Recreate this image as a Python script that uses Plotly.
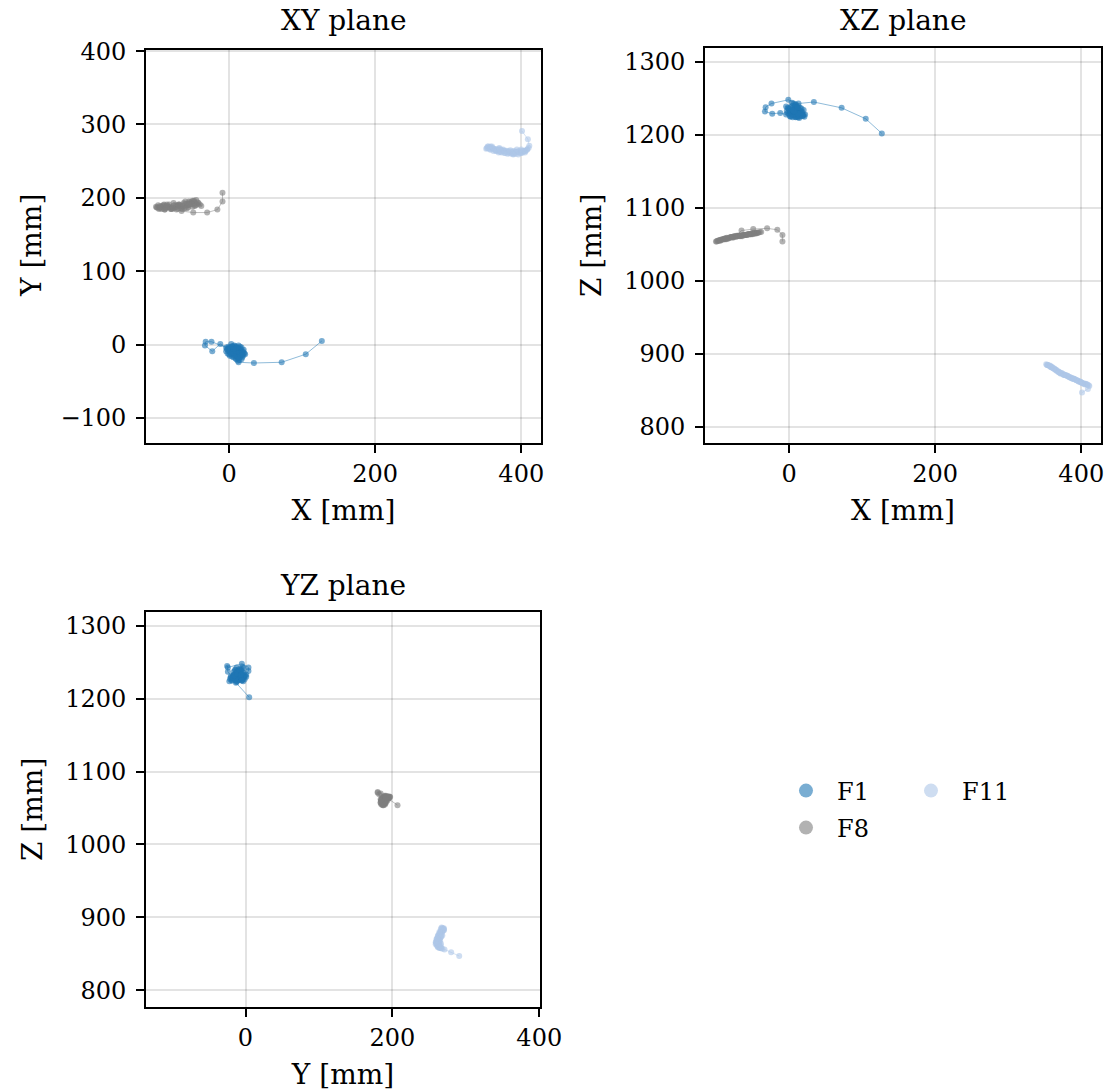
import plotly.graph_objects as go

W, H = 1111, 1092

# ---------------- data (time ordered trajectories, mm) ----------------
f1_x = [127, 105, 72, 34, 13, -1, -24, -32, -33, -23, -12, -4,
        2, 6, 10, 4, 8, 12, 15, 18, 5, 9, 11, 14, 16, 7, 3, 0, -3, 13, 19, 21,
        17, 12, 10, 6, 1, -2, 4, 8, 11, 15, 20, 17, 13, 9, 5, 2, 7, 14, 11, 9,
        3, 7, 12, 16, 19, 22, 18, 14, 9, 4, 0, -4, -1, 3, 8, 13, 17, 20, 15, 10,
        6, 2, -2, 1, 5, 10, 14, 18, 12, 7, 4, 9, 11, 6]
f1_y = [5, -13, -24, -25, -24, -5, 4, 4, -1, -9, 1, -4,
        -8, -10, -6, -2, -14, -12, -8, -10, -6, -3, -16, -18, -14, -11, -13, -9, -6, -5, -15, -12,
        -20, -22, -20, -17, -15, -12, -4, -8, -10, -3, -7, -11, -14, -12, -9, -5, -1, -9, -7, -10,
        -7, -9, -11, -6, -9, -13, -17, -21, -19, -16, -13, -9, -3, 1, -2, -1, -4, -11, -16, -14,
        -12, -10, -7, -4, -3, -5, -12, -14, -18, -15, -11, -8, -4, -6]
f1_z = [1202, 1222, 1237, 1245, 1243, 1248, 1243, 1238, 1232, 1229, 1230, 1228,
        1232, 1235, 1238, 1230, 1227, 1229, 1226, 1228, 1240, 1242, 1233, 1225, 1231, 1236, 1226, 1229, 1233, 1234, 1227, 1225,
        1229, 1224, 1231, 1227, 1233, 1237, 1244, 1241, 1226, 1230, 1228, 1236, 1239, 1224, 1229, 1225, 1232, 1227, 1230, 1228,
        1231, 1234, 1237, 1229, 1226, 1228, 1232, 1227, 1225, 1230, 1235, 1239, 1236, 1233, 1229, 1227, 1231, 1234, 1237, 1240,
        1243, 1238, 1230, 1226, 1224, 1225, 1223, 1226, 1229, 1232, 1235, 1239, 1237, 1233]

f8_x = [-9, -9, -16, -30, -49, -65,
        -72, -80, -88, -95, -100, -97, -90, -85, -78, -70, -62, -55, -48, -42, -38, -45, -52, -58, -65, -75,
        -82, -92, -98, -94, -86, -76, -68, -60, -50, -44, -56, -64, -73, -83, -89, -79, -69, -61, -53, -47,
        -99, -96, -93, -90, -87, -84, -81, -78, -75, -72, -69, -66, -63, -60, -57, -54, -51, -48, -46, -43,
        -40, -50, -58, -67, -77, -86, -94, -88, -70, -55]
f8_y = [207, 195, 184, 180, 180, 182,
        184, 185, 184, 186, 188, 190, 189, 191, 187, 190, 193, 195, 196, 193, 189, 197, 194, 191, 188, 186,
        191, 185, 187, 189, 187, 193, 191, 195, 196, 191, 187, 185, 190, 188, 191, 185, 189, 186, 192, 189,
        187, 185, 188, 190, 186, 189, 187, 185, 190, 188, 191, 186, 189, 192, 190, 194, 192, 195, 190, 194,
        191, 188, 186, 190, 187, 189, 187, 184, 185, 191]
f8_z = [1054, 1063, 1070, 1072, 1071, 1069,
        1062, 1060, 1058, 1056, 1054, 1055, 1057, 1059, 1060, 1062, 1063, 1064, 1066, 1066, 1067, 1065, 1064, 1063, 1062, 1061,
        1059, 1057, 1055, 1056, 1058, 1060, 1062, 1063, 1065, 1066, 1064, 1061, 1060, 1058, 1057, 1060, 1062, 1063, 1064, 1065,
        1054, 1055, 1056, 1057, 1058, 1058, 1059, 1060, 1061, 1061, 1062, 1062, 1063, 1063, 1064, 1064, 1065, 1065, 1066, 1066,
        1067, 1064, 1063, 1061, 1059, 1057, 1055, 1057, 1061, 1064]

f11_x = [401, 409, 411, 405,
         398, 390, 382, 375, 368, 360, 354, 352, 357, 364, 371, 378, 386, 394, 402, 408, 404, 396, 388,
         380, 372, 366, 359, 355, 362, 369, 376, 384, 392, 400, 406, 397, 389, 381, 373, 365, 358, 353,
         354, 357, 360, 363, 366, 369, 372, 375, 378, 381, 384, 387, 390, 393, 396, 399, 402, 405, 408, 410,
         385, 370, 358, 394, 377, 362, 400, 389]
f11_y = [291, 280, 271, 264,
         262, 260, 263, 264, 265, 268, 270, 267, 269, 265, 263, 261, 260, 263, 262, 266, 264, 259, 262,
         264, 266, 264, 268, 270, 267, 262, 264, 261, 262, 261, 264, 264, 260, 262, 262, 266, 266, 268,
         268, 266, 270, 267, 264, 267, 263, 266, 264, 260, 263, 262, 264, 260, 263, 261, 264, 262, 266, 268,
         265, 268, 270, 266, 261, 264, 266, 259]
f11_z = [847, 852, 856, 858,
         862, 866, 869, 872, 876, 881, 885, 886, 883, 879, 874, 871, 867, 864, 860, 858, 859, 863, 866,
         870, 873, 877, 882, 884, 880, 875, 871, 868, 865, 861, 859, 862, 866, 870, 874, 878, 882, 885,
         885, 884, 882, 880, 878, 876, 874, 873, 871, 870, 868, 867, 866, 864, 863, 862, 860, 859, 858, 857,
         868, 875, 883, 864, 871, 880, 861, 866]

series_names = ["F1", "F8", "F11"]
series_colors = ["31,119,180", "127,127,127", "174,199,232"]
series_data = [(f1_x, f1_y, f1_z), (f8_x, f8_y, f8_z), (f11_x, f11_y, f11_z)]

panel_titles = ["XY plane", "XZ plane", "YZ plane"]
# ----------------------------------------------------------------------

FONT = "DejaVu Serif"
fig = go.Figure()

panels = [("x", "y", 0, 1), ("x2", "y2", 0, 2), ("x3", "y3", 1, 2)]
for (xs, ys, zs), name, col in zip(series_data, series_names, series_colors):
    coords = {0: xs, 1: ys, 2: zs}
    for xa, ya, i, j in panels:
        fig.add_trace(go.Scatter(
            x=coords[i], y=coords[j], mode="lines+markers", xaxis=xa, yaxis=ya,
            line=dict(color=f"rgba({col},0.5)", width=1),
            marker=dict(color=f"rgba({col},0.6)", size=6, line=dict(width=0)),
            showlegend=False, hoverinfo="skip"))

# legend: F1 and F8 in first column, F11 in second column
legend_ids = ["legend", "legend3", "legend2"]
legend_pos = {"legend": (775, 791), "legend3": (775, 828), "legend2": (900, 791)}
for name, col, lid in zip(series_names, series_colors, legend_ids):
    fig.add_trace(go.Scatter(
        x=[None], y=[None], mode="markers", name=name, legend=lid,
        marker=dict(color=f"rgba({col},0.6)", size=14), showlegend=True))

def px_dom_x(a, b):
    return [a / W, b / W]

def px_dom_y(top, bottom):
    return [1 - bottom / H, 1 - top / H]

def ax(domain, rng, dtick, anchor, title=None, standoff=10, lab_standoff=5):
    d = dict(
        domain=domain, range=rng, dtick=dtick, anchor=anchor, automargin=False,
        showline=True, mirror=True, linecolor="black", linewidth=1.8,
        ticks="outside", ticklen=8, tickwidth=1.8, tickcolor="black",
        ticklabelstandoff=lab_standoff,
        showgrid=True, gridcolor="rgba(0,0,0,0.11)", gridwidth=1.5,
        zeroline=False, tickfont=dict(family=FONT, size=24, color="black"),
    )
    if title:
        d["title"] = dict(text=title, standoff=standoff,
                          font=dict(family=FONT, size=28, color="black"))
    return d

layout = dict(
    width=W, height=H, margin=dict(l=0, r=0, t=0, b=0, autoexpand=False),
    paper_bgcolor="white", plot_bgcolor="white",
    font=dict(family=FONT, color="black"),
    xaxis=ax(px_dom_x(146, 541), [-113.7, 427], 200, "y", "X [mm]", 14, 0),
    yaxis=ax(px_dom_y(50, 443), [-134, 401.5], 100, "x"),
    xaxis2=ax(px_dom_x(705, 1101), [-115, 427], 200, "y2", "X [mm]", 14, 0),
    yaxis2=ax(px_dom_y(48, 443), [778, 1319], 100, "x2"),
    xaxis3=ax(px_dom_x(146, 540), [-135.5, 401], 200, "y3", "Y [mm]", 14, 0),
    yaxis3=ax(px_dom_y(612, 1007), [777, 1319], 100, "x3"),
    showlegend=True,
)
for lid, (lx, ly) in legend_pos.items():
    layout[lid] = dict(x=lx / W, y=1 - ly / H, xanchor="left", yanchor="middle",
                       bgcolor="rgba(0,0,0,0)", borderwidth=0, itemsizing="trace",
                       itemwidth=52,
                       font=dict(family=FONT, size=24, color="black"))

annotations = []
title_pos = [(343.5, 20), (903, 20), (343, 585)]
for t, (px, py) in zip(panel_titles, title_pos):
    annotations.append(dict(text=t, x=px / W, y=1 - py / H, xref="paper", yref="paper",
                            xanchor="center", yanchor="middle", showarrow=False,
                            font=dict(family=FONT, size=28, color="black")))
ytitles = [("Y [mm]", 32, 246), ("Z [mm]", 592, 246), ("Z [mm]", 32, 810)]
for t, px, py in ytitles:
    annotations.append(dict(text=t, x=px / W, y=1 - py / H, xref="paper", yref="paper",
                            xanchor="center", yanchor="middle", showarrow=False, textangle=-90,
                            font=dict(family=FONT, size=28, color="black")))
layout["annotations"] = annotations
fig.update_layout(**layout)
fig.write_html("out.html")
